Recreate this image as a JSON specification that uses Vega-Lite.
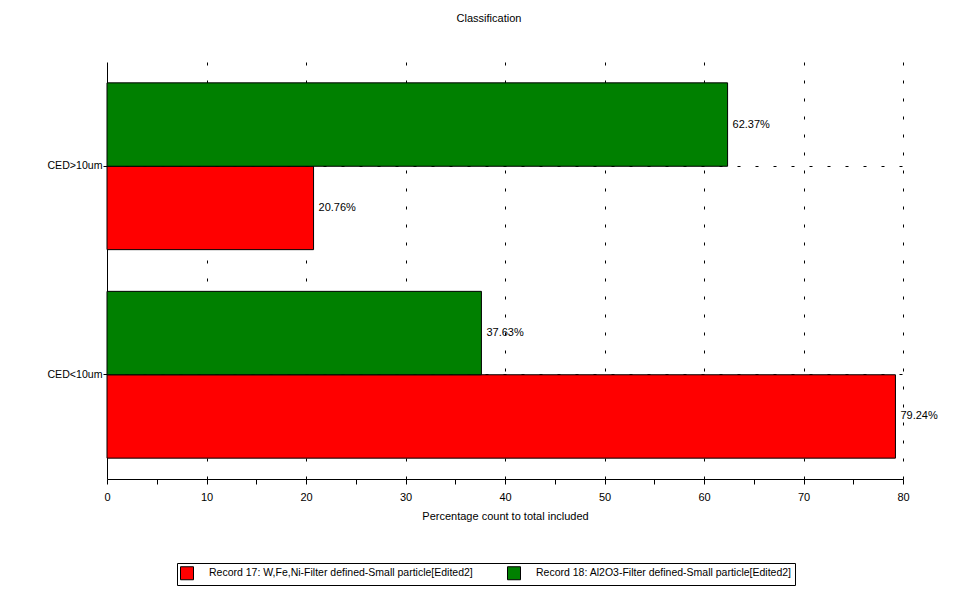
{
  "$schema": "https://vega.github.io/schema/vega-lite/v6.json",
  "autosize": {"type": "none"},
  "width": 796,
  "height": 417,
  "padding": {"left": 107, "top": 62, "right": 76, "bottom": 115},
  "background": "white",
  "title": {"text": "Classification", "anchor": "middle", "frame": "group", "dx": -16, "offset": 38, "fontSize": 11, "fontWeight": "normal", "font": "Liberation Sans", "color": "black"},
  "data": {"values": [
    {"category": "CED>10um", "series": "Record 17: W,Fe,Ni-Filter defined-Small particle[Edited2]", "value": 20.76},
    {"category": "CED>10um", "series": "Record 18: Al2O3-Filter defined-Small particle[Edited2]", "value": 62.37},
    {"category": "CED<10um", "series": "Record 17: W,Fe,Ni-Filter defined-Small particle[Edited2]", "value": 79.24},
    {"category": "CED<10um", "series": "Record 18: Al2O3-Filter defined-Small particle[Edited2]", "value": 37.63}
  ]},
  "transform": [{"calculate": "format(datum.value, '.2f') + '%'", "as": "label"}],
  "encoding": {
    "y": {"field": "category", "type": "nominal", "sort": ["CED>10um", "CED<10um"],
      "scale": {"paddingInner": 0.2, "paddingOuter": 0.1},
      "axis": {"title": null, "grid": true, "gridDash": [3, 15], "gridColor": "black", "gridWidth": 1, "tickSize": 4, "tickColor": "black", "domainColor": "black", "labelColor": "black", "labelFont": "Liberation Sans", "labelFontSize": 10.6, "labelPadding": 1}},
    "yOffset": {"field": "series", "type": "nominal", "sort": ["Record 18: Al2O3-Filter defined-Small particle[Edited2]", "Record 17: W,Fe,Ni-Filter defined-Small particle[Edited2]"], "scale": {"paddingInner": 0, "paddingOuter": 0}},
    "x": {"field": "value", "type": "quantitative", "scale": {"domain": [0, 80], "nice": false},
      "axis": {"title": "Percentage count to total included", "values": [0,5,10,15,20,25,30,35,40,45,50,55,60,65,70,75,80],
        "labelExpr": "datum.value % 10 === 0 ? datum.label : ''",
        "grid": true, "gridDash": [3, 15], "gridColor": "black",
        "gridOpacity": {"condition": {"test": "datum.value % 10 === 0 && datum.value > 0", "value": 1}, "value": 0},
        "tickSize": 5, "tickColor": "black", "domainColor": "black", "labelColor": "black", "labelFont": "Liberation Sans", "labelFontSize": 11, "labelPadding": 7, "labelFlush": false,
        "titleFont": "Liberation Sans", "titleFontSize": 11, "titleFontWeight": "normal", "titleColor": "black", "titlePadding": 8}}
  },
  "layer": [
    {"mark": {"type": "bar", "stroke": "black", "strokeWidth": 1},
     "encoding": {"color": {"field": "series", "type": "nominal",
       "scale": {"domain": ["Record 17: W,Fe,Ni-Filter defined-Small particle[Edited2]", "Record 18: Al2O3-Filter defined-Small particle[Edited2]"], "range": ["#ff0000", "#008000"]},
       "legend": {"title": null, "orient": "none", "legendX": 70, "legendY": 501, "direction": "horizontal", "strokeColor": "black", "padding": 3, "symbolType": "square", "symbolSize": 169, "symbolStrokeColor": "black", "symbolStrokeWidth": 1, "symbolOpacity": 1, "labelOffset": 15, "columnPadding": 32, "labelFont": "Liberation Sans", "labelFontSize": 10.5, "labelColor": "black", "labelLimit": 400}}}},
    {"mark": {"type": "text", "align": "left", "baseline": "middle", "dx": 5, "font": "Liberation Sans", "fontSize": 11, "color": "black"},
     "encoding": {"text": {"field": "label"}}}
  ],
  "config": {"view": {"stroke": null}, "axis": {"domainWidth": 1, "tickWidth": 1}}
}
